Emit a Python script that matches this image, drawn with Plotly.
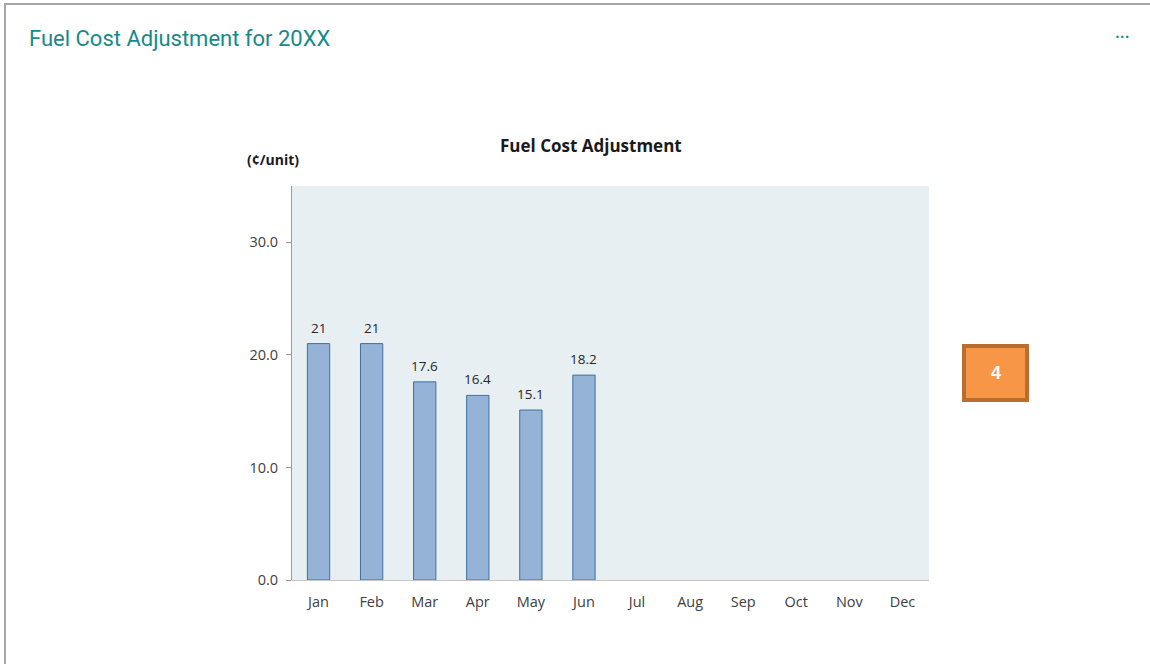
import plotly.graph_objects as go

months = ["Jan", "Feb", "Mar", "Apr", "May", "Jun", "Jul", "Aug", "Sep", "Oct", "Nov", "Dec"]
fca_values = [21, 21, 17.6, 16.4, 15.1, 18.2, None, None, None, None, None, None]
bar_labels = ["21", "21", "17.6", "16.4", "15.1", "18.2", "", "", "", "", "", ""]
y_ticks = [0, 10, 20, 30]

W, H = 1150, 664
L, R, T, B = 292, 929, 186, 580

def px(x):
    return (x - L) / (R - L)

def py(y):
    return (B - y) / (B - T)

fig = go.Figure()
fig.add_trace(go.Bar(
    x=months, y=fca_values,
    marker=dict(color="#95b3d7", line=dict(color="#41709c", width=1)),
    width=0.42, hoverinfo="x+y",
))

fig.update_layout(
    width=W, height=H,
    margin=dict(l=L, r=W - R, t=T, b=H - B, pad=0),
    paper_bgcolor="white", plot_bgcolor="#e8eff3",
    showlegend=False,
    font=dict(family="Open Sans, Liberation Sans, sans-serif", size=14, color="#404040"),
    xaxis=dict(showgrid=False, showline=True, linecolor="#c4c4c4", linewidth=1,
               ticks="", ticklabelstandoff=9, tickfont=dict(size=14.5, color="#404040"), fixedrange=True),
    yaxis=dict(range=[0, 35], tickvals=y_ticks, tickformat=".1f", showgrid=False,
               zeroline=False, showline=True, linecolor="#9a9a9a", linewidth=1,
               ticks="outside", ticklen=5, tickcolor="#9a9a9a", ticklabelstandoff=5,
               tickfont=dict(size=14.5, color="#404040"), fixedrange=True),
)

shapes = []
# outer frame (top and left)
shapes.append(dict(type="line", xref="paper", yref="paper", x0=px(4), x1=px(1150), y0=py(4), y1=py(4),
                   line=dict(color="#a6a6a6", width=2)))
shapes.append(dict(type="line", xref="paper", yref="paper", x0=px(5), x1=px(5), y0=py(4), y1=py(664),
                   line=dict(color="#a6a6a6", width=2)))
# orange badge
shapes.append(dict(type="rect", xref="paper", yref="paper", x0=px(964), x1=px(1027), y0=py(346), y1=py(400),
                   fillcolor="#f79646", line=dict(color="#b96d2e", width=4)))
fig.update_layout(shapes=shapes)

ann = []
for m, v, lab in zip(months, fca_values, bar_labels):
    if v is not None:
        ann.append(dict(text=lab, x=m, y=v, xref="x", yref="y", yanchor="bottom",
                        yshift=5, showarrow=False,
                        font=dict(family="Open Sans, sans-serif", size=13.5, color="#262626")))
ann.append(dict(text="Fuel Cost Adjustment for 20XX", xref="paper", yref="paper", x=px(27), y=py(38),
                xanchor="left", yanchor="middle", showarrow=False,
                font=dict(family="Roboto, sans-serif", size=22, color="#168a8a")))
ann.append(dict(text="<b>···</b>", xref="paper", yref="paper", x=px(1122), y=py(37),
                xanchor="center", yanchor="middle", showarrow=False,
                font=dict(family="Roboto, sans-serif", size=16, color="#168a8a")))
ann.append(dict(text="<b>Fuel Cost Adjustment</b>", xref="paper", yref="paper", x=px(591), y=py(145),
                xanchor="center", yanchor="middle", showarrow=False,
                font=dict(family="Open Sans, sans-serif", size=17, color="#1a1a1a")))
ann.append(dict(text="<b>(¢/unit)</b>", xref="paper", yref="paper", x=px(245), y=py(160),
                xanchor="left", yanchor="middle", showarrow=False,
                font=dict(family="Open Sans, sans-serif", size=14, color="#1a1a1a")))
ann.append(dict(text="<b>4</b>", xref="paper", yref="paper", x=px(995.5), y=py(373),
                xanchor="center", yanchor="middle", showarrow=False,
                font=dict(family="Liberation Sans, Arial, sans-serif", size=18, color="white")))
fig.update_layout(annotations=ann)

fig.write_html("out.html", config={"displayModeBar": False},
               post_script="document.body.style.margin='0';document.body.style.overflow='hidden';")
